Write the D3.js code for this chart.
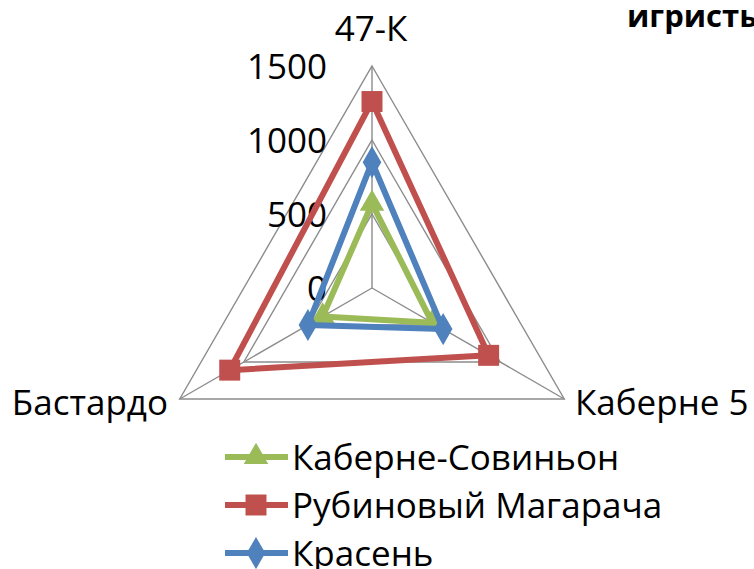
<!DOCTYPE html>
<html>
<head>
<meta charset="utf-8">
<script src="https://d3js.org/d3.v7.min.js"></script>
<style>
body{margin:0;background:#fff}
svg{display:block;font-family:'Open Sans',sans-serif}
</style>
</head>
<body>
<svg id="chart" width="754" height="569"></svg>
<script>
// axes of the radar, clockwise from the top
var categories = ["47-К", "Каберне 5", "Бастардо"];
var tickValues = [0, 500, 1000, 1500];
var seriesNames = ["Каберне-Совиньон", "Рубиновый Магарача", "Красень"];
var kabernetSovinon = [570, 470, 385];
var rubinovyMagaracha = [1260, 910, 1110];
var krasen = [850, 555, 500];
var seriesValues = [kabernetSovinon, rubinovyMagaracha, krasen];
var colors = ["#9BBB59", "#C0504D", "#4F81BD"];
var symbols = [d3.symbolTriangle, d3.symbolSquare, d3.symbolDiamond];
var symbolSizes = [260, 440, 300];

var svg = d3.select("#chart");
var cx = 372, cy = 288;

var r = d3.scaleLinear().domain([0, 1500]).range([0, 222]);
var angle = d3.scalePoint().domain(categories).range([0, 2 * Math.PI * 2 / 3]);

function pt(cat, v) {
  var a = angle(cat);
  return [cx + r(v) * Math.sin(a), cy - r(v) * Math.cos(a)];
}

var g = svg.append("g");

// grid triangles
tickValues.slice(1).forEach(function(t) {
  g.append("polygon")
    .attr("points", categories.map(function(c) { return pt(c, t).join(","); }).join(" "))
    .attr("fill", "none")
    .attr("stroke", "#8c8c8c")
    .attr("stroke-width", 1.4);
});

// spokes
categories.forEach(function(c) {
  var p = pt(c, 1500);
  g.append("line")
    .attr("x1", cx).attr("y1", cy)
    .attr("x2", p[0]).attr("y2", p[1])
    .attr("stroke", "#8c8c8c")
    .attr("stroke-width", 1.4);
});

// value labels along the top axis
g.selectAll(".tick")
  .data(tickValues)
  .enter().append("text")
    .attr("x", 327)
    .attr("y", function(d) { return cy - r(d); })
    .attr("dy", "0.36em")
    .attr("text-anchor", "end")
    .attr("font-size", 35)
    .attr("fill", "#000")
    .text(function(d) { return d; });

// category labels
var catPos = [
  {x: 371, y: 41, anchor: "middle"},
  {x: 575, y: 415, anchor: "start"},
  {x: 168, y: 415, anchor: "end"}
];
g.selectAll(".cat")
  .data(categories)
  .enter().append("text")
    .attr("x", function(d, i) { return catPos[i].x; })
    .attr("y", function(d, i) { return catPos[i].y; })
    .attr("text-anchor", function(d, i) { return catPos[i].anchor; })
    .attr("font-size", 35)
    .text(function(d) { return d; });

// series
var line = d3.lineRadial()
  .angle(function(d, i) { return angle(categories[i]); })
  .radius(function(d) { return r(d); })
  .curve(d3.curveLinearClosed);

seriesValues.forEach(function(vals, s) {
  var sg = g.append("g");
  sg.append("path")
    .attr("transform", "translate(" + cx + "," + cy + ")")
    .attr("d", line(vals))
    .attr("fill", "none")
    .attr("stroke", colors[s])
    .attr("stroke-width", 6)
    .attr("stroke-linejoin", "round");
  sg.selectAll("path.m")
    .data(vals)
    .enter().append("path")
      .attr("class", "m")
      .attr("transform", function(d, i) { var p = pt(categories[i], d); return "translate(" + p[0] + "," + p[1] + ")"; })
      .attr("d", d3.symbol().type(symbols[s]).size(symbolSizes[s]))
      .attr("fill", colors[s]);
});

// legend
var legend = g.append("g");
var legY = [457, 505, 553];
seriesNames.forEach(function(name, s) {
  var y = legY[s];
  legend.append("line")
    .attr("x1", 225).attr("x2", 288)
    .attr("y1", y).attr("y2", y)
    .attr("stroke", colors[s])
    .attr("stroke-width", 6);
  legend.append("path")
    .attr("transform", "translate(256," + y + ")")
    .attr("d", d3.symbol().type(symbols[s]).size(symbolSizes[s]))
    .attr("fill", colors[s]);
  legend.append("text")
    .attr("x", 292)
    .attr("y", y)
    .attr("dy", "0.36em")
    .attr("font-size", 35)
    .text(name);
});

// title fragment, cut by the right edge
svg.append("text")
  .attr("x", 627)
  .attr("y", 27)
  .attr("font-size", 31)
  .attr("font-weight", "bold")
  .text("игристых");
</script>
</body>
</html>
